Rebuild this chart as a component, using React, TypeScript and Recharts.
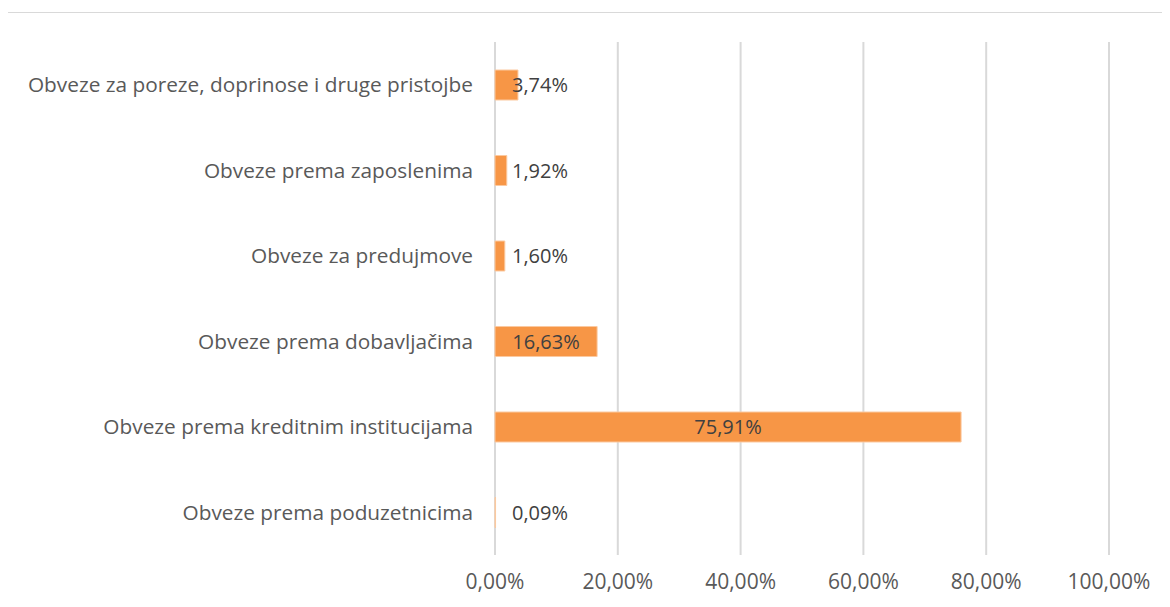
import React from 'react';
import { BarChart, Bar, XAxis, YAxis, CartesianGrid, LabelList } from 'recharts';

const categories = [
  'Obveze za poreze, doprinose i druge pristojbe',
  'Obveze prema zaposlenima',
  'Obveze za predujmove',
  'Obveze prema dobavljačima',
  'Obveze prema kreditnim institucijama',
  'Obveze prema poduzetnicima',
];
const shares = [3.74, 1.92, 1.6, 16.63, 75.91, 0.09];
const xTicks = [0, 20, 40, 60, 80, 100];

const data = categories.map((name, i) => ({ name, value: shares[i] }));

const fmt = (v: number) => v.toFixed(2).replace('.', ',') + '%';
const font = '"Open Sans", sans-serif';

function BarLabel(props: any) {
  const { x, y, width, height, value } = props;
  const cy = y + height / 2;
  const inside = width > 60;
  return (
    <text
      x={inside ? x + width / 2 : x + 17}
      y={cy}
      dy="0.36em"
      textAnchor={inside ? 'middle' : 'start'}
      fill="#404040"
      fontSize={20}
      fontFamily={font}
    >
      {fmt(value)}
    </text>
  );
}

export default function App() {
  return (
    <div style={{ width: 1162, height: 599, overflow: 'hidden', marginLeft: -1, marginTop: 4 }}>
      <div style={{ width: 1200, height: 620, borderTop: '1px solid #d9d9d9', borderLeft: '1px solid #d9d9d9' }}>
        <BarChart
          layout="vertical"
          width={1160}
          height={594}
          data={data}
          margin={{ top: 29, right: 59, bottom: 12, left: 0 }}
        >
          <CartesianGrid horizontal={false} stroke="#d9d9d9" strokeWidth={2} />
          <XAxis
            type="number"
            domain={[0, 100]}
            ticks={xTicks}
            tickFormatter={fmt}
            axisLine={false}
            tickLine={false}
            tickSize={0}
            tickMargin={19}
            height={40}
            tick={{ fill: '#595959', fontSize: 21, fontFamily: font }}
          />
          <YAxis
            type="category"
            dataKey="name"
            width={487}
            axisLine={false}
            tickLine={false}
            tickSize={0}
            tickMargin={22}
            tick={{ fill: '#595959', fontSize: 20.8, fontFamily: font }}
          />
          <Bar dataKey="value" fill="#f79646" stroke="#fbc9a0" strokeWidth={1} barSize={30} isAnimationActive={false}>
            <LabelList dataKey="value" content={BarLabel} />
          </Bar>
        </BarChart>
      </div>
    </div>
  );
}
